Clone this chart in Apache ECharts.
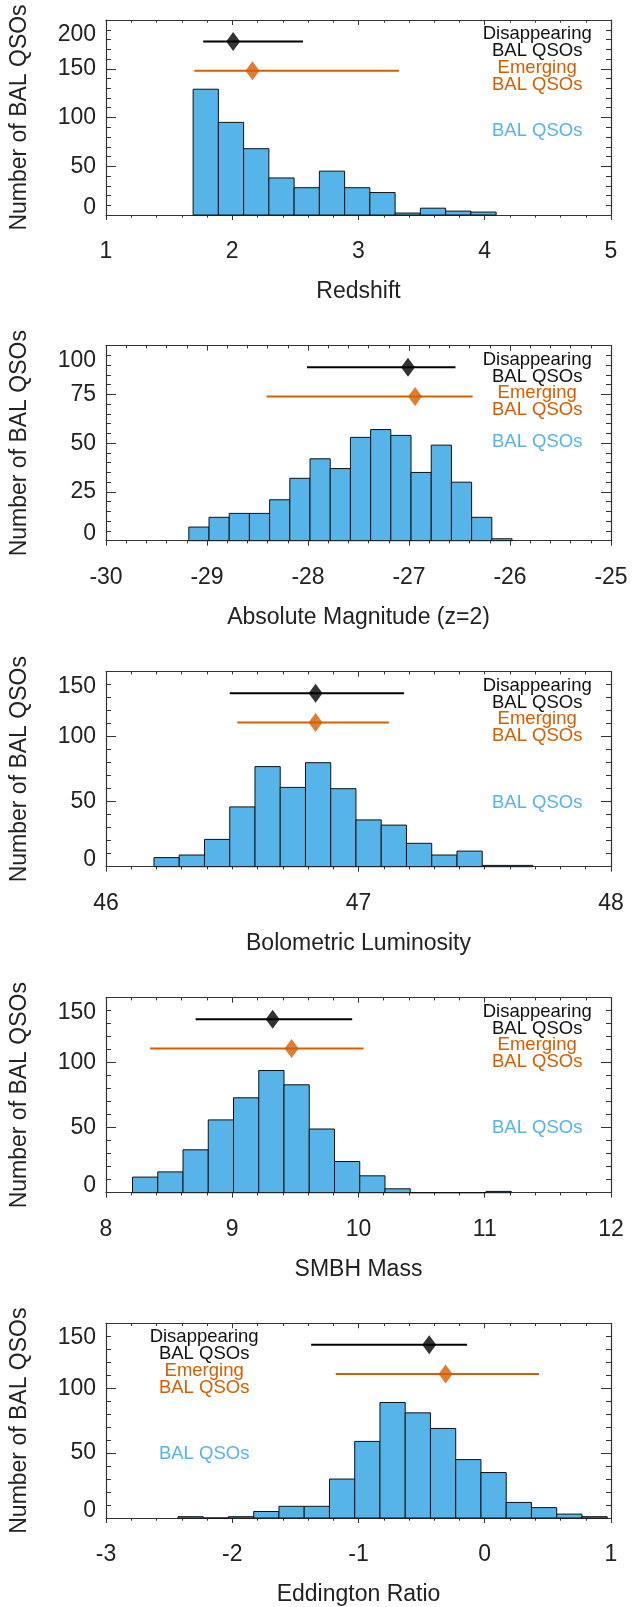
<!DOCTYPE html>
<html>
<head>
<meta charset="utf-8">
<script src="https://cdn.jsdelivr.net/npm/echarts@6/dist/echarts.min.js"></script>
<style>
  html, body { margin: 0; padding: 0; background: #fff; }
  #main { width: 641px; height: 1607px; }
</style>
</head>
<body>
<div id="main"></div>
<script>
// histogram counts, one array per panel (bins start at *Start, step *Bin)
const redshiftStart = 1.69, redshiftBin = 0.2
const redshiftCounts = [129, 95, 68, 38, 28, 45, 28, 23, 2, 7, 4, 3]
const magStart = -29.18, magBin = 0.2
const magCounts = [7, 12, 14, 14, 21, 32, 42, 37, 53, 57, 54, 35, 49, 30, 12, 1]
const lumStart = 46.19, lumBin = 0.1
const lumCounts = [7, 9, 21, 46, 77, 61, 80, 60, 36, 32, 18, 9, 12, 1, 1]
const massStart = 8.21, massBin = 0.2
const massCounts = [12, 16, 33, 56, 73, 94, 83, 49, 24, 13, 3, 0, 0, 0, 1]
const eddStart = -2.43, eddBin = 0.2
const eddCounts = [1, 0, 1, 5, 9, 9, 30, 59, 89, 81, 69, 45, 35, 12, 8, 3, 1]

// error bars: [low, median, high, height]
const disappearing = [
  [1.77, 2.007, 2.56, 178],
  [-28.01, -27.01, -26.54, 89],
  [46.49, 46.83, 47.18, 133.5],
  [8.71, 9.32, 9.95, 133.5],
  [-1.375, -0.44, -0.14, 133.5]
]
const emerging = [
  [1.70, 2.16, 3.32, 148],
  [-28.41, -26.94, -26.37, 74],
  [46.52, 46.83, 47.12, 111],
  [8.35, 9.47, 10.04, 111],
  [-1.18, -0.31, 0.43, 111]
]

const xNames = ['Redshift', 'Absolute Magnitude (z=2)', 'Bolometric Luminosity', 'SMBH Mass', 'Eddington Ratio']
const xRanges = [[1, 5], [-30, -25], [46, 48], [8, 12], [-3, 1]]
const xMinor = [5, 5, 10, 5, 5]
const yMax = [200, 100, 150, 150, 150]
const yStep = [50, 25, 50, 50, 50]

const hists = [
  [redshiftStart, redshiftBin, redshiftCounts],
  [magStart, magBin, magCounts],
  [lumStart, lumBin, lumCounts],
  [massStart, massBin, massCounts],
  [eddStart, eddBin, eddCounts]
]

const BLUE = '#56B4E9', ORANGE = '#D55E00', INK = '#222'
const FONT = '"Liberation Sans", Arial, Helvetica, sans-serif'

const gridLeft = 105.6, gridW = 505.4, gridH = 195
const gridTops = [20, 345.7, 671.7, 997.7, 1323.3]
// legend placement inside each box (fraction of width, px from top)
const legX = [0.854, 0.854, 0.854, 0.854, 0.195]
const legBlueY = [111, 96, 131, 130.6, 131]

let chartDom = document.getElementById('main')
let myChart = echarts.init(chartDom)

let grid = [], xAxis = [], yAxis = [], series = [], graphic = []

function histItem(params, api) {
  let p0 = api.coord([api.value(0), 0])
  let p1 = api.coord([api.value(1), api.value(2)])
  return {
    type: 'rect',
    shape: { x: p0[0], y: p1[1], width: p1[0] - p0[0], height: p0[1] - p1[1] },
    style: { fill: BLUE, stroke: '#111', lineWidth: 1 }
  }
}

for (let i = 0; i < 5; i++) {
  grid.push({ left: gridLeft, top: gridTops[i], width: gridW, height: gridH })

  let axLine = { show: true, onZero: false, lineStyle: { color: '#333', width: 1.2 } }
  let tickStyle = { color: '#333', width: 1 }
  xAxis.push({
    type: 'value', gridIndex: i, position: 'bottom',
    min: xRanges[i][0], max: xRanges[i][1], interval: 1,
    axisLine: axLine,
    axisTick: { show: true, inside: false, length: 5, lineStyle: tickStyle },
    minorTick: { show: true, splitNumber: xMinor[i], length: 2.7, lineStyle: tickStyle },
    splitLine: { show: false },
    axisLabel: { fontSize: 23, color: INK, fontFamily: FONT, margin: 25 },
    name: xNames[i], nameLocation: 'middle', nameGap: 65,
    nameTextStyle: { fontSize: 23, color: INK, fontFamily: FONT }
  })
  xAxis.push({
    type: 'value', gridIndex: i, position: 'top',
    min: xRanges[i][0], max: xRanges[i][1], interval: 1,
    axisLine: axLine,
    axisTick: { show: true, inside: true, length: 5, lineStyle: tickStyle },
    minorTick: { show: true, splitNumber: xMinor[i], length: 2.7, lineStyle: tickStyle },
    splitLine: { show: false },
    axisLabel: { show: false }
  })

  let top = yMax[i]
  yAxis.push({
    type: 'value', gridIndex: i, position: 'left',
    min: 0, max: top, interval: yStep[i],
    axisLine: axLine,
    axisTick: { show: true, inside: true, length: 10, lineStyle: tickStyle },
    minorTick: { show: true, splitNumber: 5, length: 5, lineStyle: tickStyle },
    splitLine: { show: false },
    axisLabel: {
      fontSize: 23, color: INK, fontFamily: FONT, margin: 10,
      formatter: function (v) {
        if (v === 0) return '{lo|0}'
        if (v === top) return '{hi|' + v + '}'
        return v
      },
      rich: {
        lo: { fontSize: 23, color: INK, fontFamily: FONT, padding: [0, 0, 15, 0] },
        hi: { fontSize: 23, color: INK, fontFamily: FONT, padding: [29, 0, 0, 0] }
      }
    },
    name: 'Number of BAL QSOs', nameLocation: 'middle', nameGap: 75,
    nameTextStyle: { fontSize: 23, color: INK, fontFamily: FONT }
  })
  yAxis.push({
    type: 'value', gridIndex: i, position: 'right',
    min: 0, max: top, interval: yStep[i],
    axisLine: axLine,
    axisTick: { show: true, inside: true, length: 10, lineStyle: tickStyle },
    minorTick: { show: true, splitNumber: 5, length: 5, lineStyle: tickStyle },
    splitLine: { show: false },
    axisLabel: { show: false }
  })

  let h = hists[i]
  let bars = h[2].map((n, k) => [h[0] + k * h[1], h[0] + (k + 1) * h[1], n])
  series.push({
    type: 'custom', xAxisIndex: 2 * i, yAxisIndex: 2 * i,
    renderItem: histItem, encode: { x: [0, 1], y: 2 }, data: bars, z: 2
  })

  let sets = [[disappearing[i], '#000'], [emerging[i], ORANGE]]
  sets.forEach(([e, c]) => {
    series.push({
      type: 'line', xAxisIndex: 2 * i, yAxisIndex: 2 * i,
      data: [[e[0], e[3]], [e[2], e[3]]], symbol: 'none',
      lineStyle: { color: c, width: 2 }, z: 3, silent: true
    })
    series.push({
      type: 'scatter', xAxisIndex: 2 * i, yAxisIndex: 2 * i,
      data: [[e[1], e[3]]], symbol: 'diamond', symbolSize: [14, 19],
      itemStyle: { color: c }, z: 4
    })
  })

  let cx = gridLeft + legX[i] * gridW
  let lines = [['Disappearing', '#111', 14], ['BAL QSOs', '#111', 31], ['Emerging', ORANGE, 47.5], ['BAL QSOs', ORANGE, 64.5], ['BAL QSOs', BLUE, legBlueY[i]]]
  lines.forEach(([t, c, dy]) => {
    graphic.push({
      type: 'text', x: cx, y: gridTops[i] + dy, z: 10,
      style: { text: t, fill: c, font: '18.5px ' + FONT, textAlign: 'center', textVerticalAlign: 'middle', verticalAlign: 'middle' }
    })
  })
}

let option = {
  animation: false,
  backgroundColor: '#fff',
  textStyle: { fontFamily: FONT },
  grid: grid,
  xAxis: xAxis,
  yAxis: yAxis,
  series: series,
  graphic: graphic
}
option && myChart.setOption(option)
</script>
</body>
</html>
